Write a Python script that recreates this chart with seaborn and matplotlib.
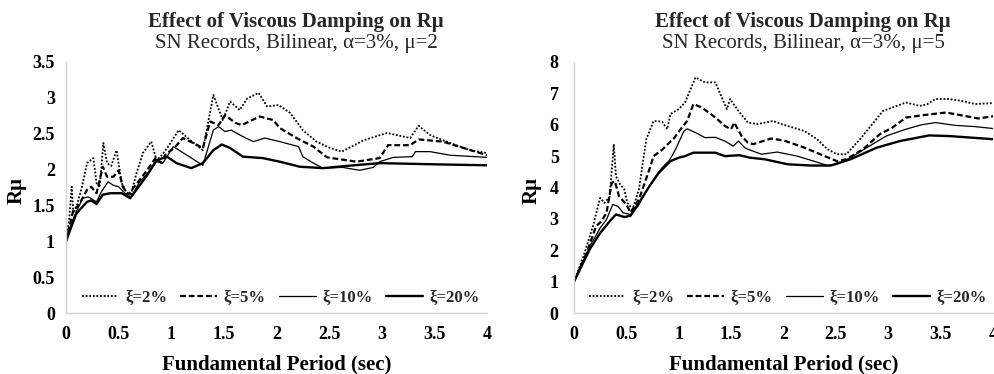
import numpy as np
import pandas as pd
import matplotlib
matplotlib.use("Agg")
import matplotlib.pyplot as plt
import seaborn as sns

# ---------------- data ----------------
TITLE = "Effect of Viscous Damping on Rμ"
SUB_L = "SN Records, Bilinear, α=3%, μ=2"
SUB_R = "SN Records, Bilinear, α=3%, μ=5"
XLABEL = "Fundamental Period (sec)"
YLABEL = "Rμ"
LABELS = ["ξ=2%", "ξ=5%", "ξ=10%", "ξ=20%"]

# Left panel (mu = 2)
L_T2 = [0, 0.03, 0.054, 0.07, 0.10, 0.15, 0.20, 0.26, 0.29, 0.32, 0.355, 0.39, 0.43, 0.48, 0.53, 0.56,
        0.61, 0.67, 0.73, 0.81, 0.86, 0.91, 0.97, 1.07, 1.18, 1.30, 1.40, 1.49, 1.56, 1.65, 1.72, 1.83,
        1.91, 2.02, 2.13, 2.25, 2.38, 2.51, 2.62, 2.83, 3.05, 3.27, 3.35, 3.46, 3.65, 3.84, 4.0]
L_R2 = [1.0, 1.3, 1.76, 1.39, 1.48, 1.75, 2.09, 2.16, 1.81, 1.75, 2.37, 2.09, 2.05, 2.27, 1.81, 1.72,
        1.62, 1.95, 2.23, 2.39, 2.13, 2.2, 2.32, 2.55, 2.41, 2.27, 3.04, 2.69, 2.95, 2.83, 2.99, 3.07,
        2.88, 2.90, 2.79, 2.55, 2.39, 2.30, 2.25, 2.41, 2.51, 2.44, 2.61, 2.48, 2.37, 2.27, 2.23]

L_T5 = [0, 0.07, 0.12, 0.20, 0.24, 0.29, 0.35, 0.39, 0.45, 0.50, 0.54, 0.59, 0.67, 0.77, 0.85, 0.91,
        0.94, 1.04, 1.11, 1.21, 1.30, 1.37, 1.45, 1.51, 1.61, 1.67, 1.84, 1.97, 2.03, 2.19, 2.35, 2.48,
        2.76, 2.98, 3.06, 3.27, 3.35, 3.58, 3.78, 4.0]
L_R5 = [1.0, 1.44, 1.5, 1.72, 1.76, 1.67, 2.04, 1.90, 1.90, 1.99, 1.76, 1.65, 1.80, 1.99, 2.16, 2.09,
        2.2, 2.32, 2.44, 2.37, 2.30, 2.67, 2.62, 2.76, 2.65, 2.62, 2.74, 2.69, 2.58, 2.44, 2.32, 2.17,
        2.11, 2.16, 2.34, 2.34, 2.42, 2.39, 2.30, 2.20]

L_T10 = [0, 0.05, 0.10, 0.16, 0.21, 0.29, 0.34, 0.40, 0.45, 0.50, 0.56, 0.61, 0.70, 0.80, 0.86, 0.92,
         1.02, 1.30, 1.40, 1.45, 1.51, 1.57, 1.68, 1.78, 1.89, 2.03, 2.21, 2.25, 2.35, 2.44, 2.63, 2.79,
         2.92, 2.98, 3.11, 3.29, 3.32, 3.46, 3.65, 4.0]
L_R10 = [1.0, 1.25, 1.42, 1.60, 1.62, 1.55, 1.70, 1.83, 1.78, 1.76, 1.67, 1.60, 1.83, 1.99, 2.11, 2.09,
         2.32, 2.06, 2.55, 2.6, 2.53, 2.55, 2.46, 2.39, 2.44, 2.39, 2.32, 2.18, 2.09, 2.02, 2.03, 1.99,
         2.03, 2.11, 2.17, 2.18, 2.25, 2.25, 2.20, 2.17]

L_T20 = [0, 0.05, 0.10, 0.20, 0.24, 0.29, 0.35, 0.42, 0.53, 0.61, 0.69, 0.77, 0.86, 0.96, 1.05, 1.19,
         1.30, 1.40, 1.48, 1.56, 1.68, 1.87, 2.03, 2.22, 2.44, 2.66, 2.98, 3.29, 3.61, 4.0]
L_R20 = [1.0, 1.2, 1.39, 1.55, 1.57, 1.52, 1.65, 1.67, 1.67, 1.60, 1.76, 1.92, 2.13, 2.18, 2.09, 2.02,
         2.09, 2.27, 2.35, 2.30, 2.18, 2.16, 2.11, 2.04, 2.02, 2.05, 2.09, 2.08, 2.07, 2.06]

# Right panel (mu = 5)
R_T2 = [0, 0.09, 0.18, 0.25, 0.29, 0.34, 0.38, 0.40, 0.44, 0.48, 0.51, 0.56, 0.62, 0.69, 0.76, 0.84,
        0.89, 0.92, 1.00, 1.06, 1.16, 1.25, 1.35, 1.41, 1.46, 1.49, 1.57, 1.66, 1.75, 1.90, 2.0, 2.20,
        2.32, 2.42, 2.51, 2.60, 2.73, 2.86, 2.95, 3.04, 3.17, 3.30, 3.37, 3.45, 3.58, 3.70, 3.83, 4.0]
R_R2 = [1.0, 1.80, 2.76, 3.67, 3.51, 3.7, 5.38, 4.36, 4.1, 3.94, 3.51, 3.30, 3.94, 5.54, 6.12, 6.1,
        5.86, 6.34, 6.50, 6.71, 7.51, 7.35, 7.35, 6.87, 6.5, 6.82, 6.44, 6.07, 6.02, 6.12, 6.0, 5.80,
        5.54, 5.22, 5.06, 5.06, 5.54, 6.07, 6.44, 6.55, 6.71, 6.60, 6.65, 6.82, 6.82, 6.76, 6.66, 6.69]

R_T5 = [0, 0.12, 0.21, 0.26, 0.31, 0.36, 0.39, 0.43, 0.50, 0.54, 0.62, 0.72, 0.76, 0.84, 0.91, 0.95,
        1.03, 1.08, 1.14, 1.22, 1.35, 1.44, 1.50, 1.53, 1.60, 1.66, 1.71, 1.88, 2.0, 2.20, 2.35, 2.51,
        2.60, 2.76, 2.92, 3.04, 3.17, 3.32, 3.55, 3.70, 3.86, 4.0]
R_R5 = [1.0, 1.91, 2.76, 2.92, 3.19, 4.15, 4.20, 3.72, 3.46, 3.2, 3.62, 4.58, 5.00, 5.2, 5.43, 5.55,
        5.91, 6.12, 6.66, 6.55, 6.23, 5.96, 5.86, 6.07, 5.64, 5.43, 5.38, 5.56, 5.5, 5.27, 5.06, 4.84,
        4.9, 5.22, 5.70, 5.91, 6.23, 6.3, 6.39, 6.3, 6.20, 6.27]

R_T10 = [0, 0.15, 0.25, 0.31, 0.37, 0.42, 0.47, 0.54, 0.61, 0.69, 0.76, 0.84, 0.91, 0.97, 1.05, 1.08,
         1.16, 1.25, 1.35, 1.44, 1.52, 1.57, 1.63, 1.66, 1.79, 1.94, 2.13, 2.29, 2.42, 2.51, 2.64, 2.82,
         2.98, 3.17, 3.32, 3.45, 3.64, 3.83, 4.0]
R_R10 = [1.0, 2.12, 2.71, 2.98, 3.46, 3.4, 3.19, 3.14, 3.4, 3.88, 4.26, 4.63, 4.86, 5.22, 5.80, 5.87,
         5.75, 5.59, 5.6, 5.48, 5.32, 5.48, 5.27, 5.22, 5.06, 5.13, 5.0, 4.84, 4.70, 4.74, 4.95, 5.32,
         5.64, 5.86, 6.0, 6.07, 5.98, 5.94, 5.88]

R_T20 = [0, 0.15, 0.25, 0.34, 0.40, 0.48, 0.54, 0.62, 0.72, 0.81, 0.92, 1.0, 1.06, 1.14, 1.25, 1.35,
         1.44, 1.58, 1.68, 1.82, 2.04, 2.26, 2.45, 2.64, 2.89, 3.11, 3.39, 3.58, 4.0]
R_R20 = [1.0, 2.03, 2.55, 2.92, 3.14, 3.06, 3.1, 3.51, 4.04, 4.47, 4.84, 4.95, 5.0, 5.11, 5.11, 5.11,
         5.0, 5.03, 4.95, 4.9, 4.74, 4.70, 4.70, 4.90, 5.27, 5.48, 5.66, 5.64, 5.54]

L_YTICKS = [0, 0.5, 1, 1.5, 2, 2.5, 3, 3.5]
R_YTICKS = [0, 1, 2, 3, 4, 5, 6, 7, 8]
XTICKS = [0, 0.5, 1, 1.5, 2, 2.5, 3, 3.5, 4]

# ---------------- style ----------------
sns.set_theme(style="white")
plt.rcParams["font.family"] = ["Liberation Serif", "DejaVu Serif"]

STYLES = [
    dict(linestyle=(0, (1, 1)), linewidth=1.3),
    dict(linestyle=(0, (2.6, 1.3)), linewidth=1.6),
    dict(linestyle="-", linewidth=0.9),
    dict(linestyle="-", linewidth=1.7),
]

W, H = 994, 374
fig = plt.figure(figsize=(W / 100, H / 100), dpi=100)


def make_panel(rect, series, yticks, ymax, subtitle, title_x, ylab_x, pad_y):
    ax = fig.add_axes(rect)
    for (t, r), lab, st in zip(series, LABELS, STYLES):
        df = pd.DataFrame({"T": t, "R": r})
        sns.lineplot(data=df, x="T", y="R", ax=ax, color="black", label=lab,
                     estimator=None, sort=False, **st)
    ax.set_xlim(0, 4)
    ax.set_ylim(0, ymax)
    ax.set_xticks(XTICKS)
    ax.set_xticklabels([f"{v:g}" for v in XTICKS])
    ax.set_yticks(yticks)
    ax.set_yticklabels([f"{v:g}" for v in yticks])
    for lbl in ax.get_xticklabels() + ax.get_yticklabels():
        lbl.set_fontweight("bold")
        lbl.set_fontsize(13)
        lbl.set_color("black")
    ax.tick_params(axis="both", length=0)
    ax.tick_params(axis="x", pad=9.5)
    ax.tick_params(axis="y", pad=pad_y)
    for s in ["top", "right"]:
        ax.spines[s].set_visible(False)
    for s in ["left", "bottom"]:
        ax.spines[s].set_color("#d4d4d4")
        ax.spines[s].set_linewidth(1.0)
    ax.grid(False)
    ax.set_xlabel(XLABEL, fontsize=15, fontweight="bold", color="black")
    ax.xaxis.set_label_coords(0.5, -0.165)
    ax.set_ylabel(YLABEL, fontsize=15, fontweight="bold", color="black")
    ax.yaxis.set_label_coords(ylab_x, 0.49)
    ax.legend(loc="center", bbox_to_anchor=(0.51, 0.06), ncol=4, frameon=False,
              handlelength=2.2, handletextpad=0.4, columnspacing=0.8,
              prop={"size": 12, "weight": "bold"})
    fig.text(title_x, 1 - 22 / H, TITLE, ha="center", va="center",
             fontsize=15, fontweight="bold")
    fig.text(title_x, 1 - 43.5 / H, subtitle, ha="center", va="center", fontsize=15)
    return ax


bottom = (H - 313) / H
height = 251 / H
make_panel([66 / W, bottom, 421 / W, height],
           [(L_T2, L_R2), (L_T5, L_R5), (L_T10, L_R10), (L_T20, L_R20)],
           L_YTICKS, 3.5, SUB_L, 296 / W, -0.093, 8)
make_panel([574 / W, bottom, 419 / W, height],
           [(R_T2, R_R2), (R_T5, R_R5), (R_T10, R_R10), (R_T20, R_R20)],
           R_YTICKS, 8, SUB_R, 803 / W, -0.077, 11)

fig.savefig("out.png", dpi=100)
